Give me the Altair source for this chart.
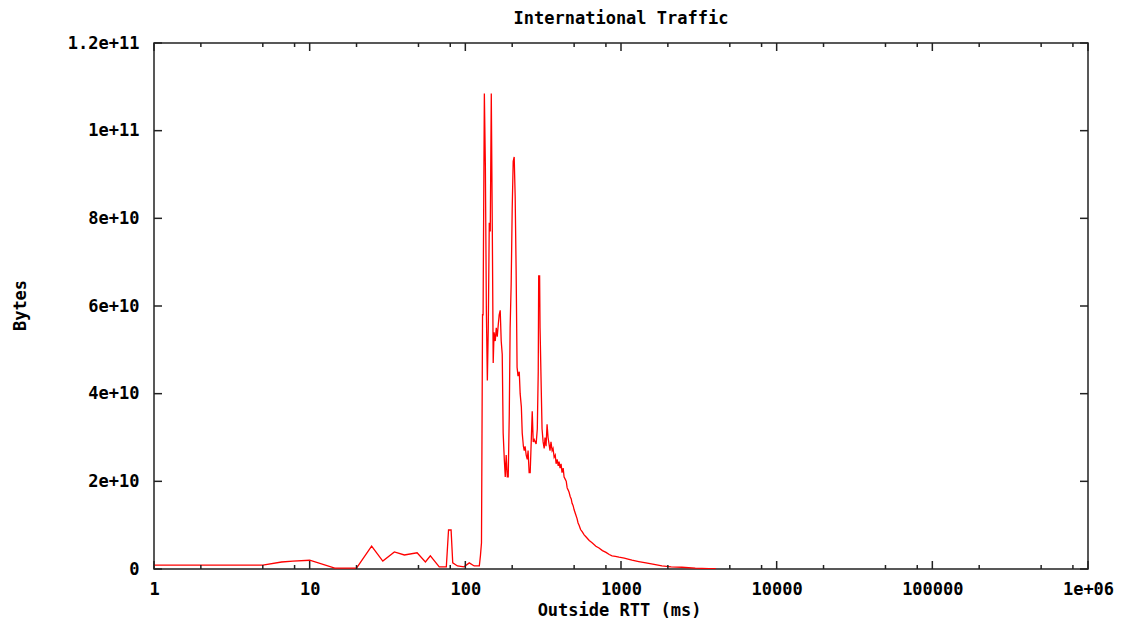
import altair as alt
import pandas as pd

# ---- data ----
rtt_ms = [1, 5, 6.6, 7.8, 10, 14.5, 20, 25, 29.5, 35, 40.6, 49, 55.4, 59.6, 68, 75.5, 78, 81, 83, 89, 98, 106, 114, 123,
          125, 127, 129, 130, 132.5, 134.5, 136.5, 138.5, 140.4, 142.5, 144.6, 146.8, 149, 151, 153, 155.7, 158, 160.3,
          163, 165, 167.5, 170, 172.6, 175, 178, 180.5, 183, 186, 188.6, 191.5, 194, 197, 200, 203, 206, 209, 212, 215,
          218, 222, 225, 229, 232, 236, 239, 242, 246, 250, 253, 257, 261, 265, 269, 273, 277, 281, 285, 290, 294, 296,
          298, 300, 302, 307, 311, 316, 321, 325, 330, 335, 340, 345, 350, 355, 361, 366, 372, 378, 383, 389, 395, 400,
          406, 412, 418, 425, 431, 438, 445, 451, 458, 464, 472, 479, 485, 492, 500, 511, 522, 530, 538, 550, 563, 580,
          597, 625, 652, 690, 722, 760, 801, 840, 876, 920, 971, 1050, 1125, 1177, 1300, 1446, 1600, 1832, 2100, 2460,
          3000, 3664, 4064]
bytes_e10 = [0.09, 0.09, 0.16, 0.18, 0.2, 0.02, 0.02, 0.52, 0.18, 0.39, 0.32, 0.37, 0.16, 0.30, 0.05, 0.05, 0.89, 0.89,
             0.14, 0.07, 0.05, 0.14, 0.07, 0.07,
             0.3, 0.6, 5.8, 5.8, 10.85, 9.2, 5.9, 4.3, 5.5, 7.9, 7.7, 10.85, 7.8, 4.7, 5.4, 5.2, 5.5, 5.3,
             5.6, 5.8, 5.9, 5.2, 4.9, 3.1, 2.5, 2.1, 2.6, 2.1, 2.1, 3.5, 5.5, 6.5, 8.2, 9.3, 9.4, 8.5, 6.8, 4.6,
             4.4, 4.5, 4.0, 3.7, 3.1, 2.8, 2.7, 2.8, 2.6, 2.5, 2.7, 2.2, 2.2, 2.9, 3.6, 2.9, 2.95, 2.9, 2.85, 3.2, 4.5, 6.7,
             6.5, 6.7, 5.5, 4.2, 3.2, 2.9, 2.75, 3.0, 2.8, 3.3, 3.0, 2.85, 2.7, 2.9, 2.7, 2.75, 2.55, 2.6, 2.4, 2.5, 2.35, 2.45,
             2.3, 2.4, 2.2, 2.3, 2.1, 2.05, 2.0, 1.85, 1.8, 1.75, 1.65, 1.6, 1.5, 1.45, 1.35, 1.25, 1.15, 1.05, 1.0, 0.9, 0.85, 0.78,
             0.73, 0.65, 0.6, 0.52, 0.48, 0.42, 0.38, 0.33, 0.3, 0.29, 0.27, 0.25, 0.22, 0.2, 0.17, 0.14, 0.11, 0.07, 0.05, 0.04,
             0.02, 0.01, 0.01]

x_major = [1, 10, 100, 1000, 10000, 100000, 1000000]
x_major_labels = ["1", "10", "100", "1000", "10000", "100000", "1e+06"]
x_minor = [2, 5, 8, 20, 50, 80, 200, 500, 800, 2000, 5000, 8000, 20000, 50000, 80000, 200000, 500000, 800000]
y_major = [0, 2e10, 4e10, 6e10, 8e10, 1e11, 1.2e11]
y_major_labels = ["0", "2e+10", "4e+10", "6e+10", "8e+10", "1e+11", "1.2e+11"]

W, H = 934, 526
FONT = "DejaVu Sans Mono"
FS = 17

df = pd.DataFrame({"rtt": rtt_ms, "bytes": [b * 1e10 for b in bytes_e10]})

xscale = alt.Scale(type="log", domain=[1, 1000000], nice=False)
yscale = alt.Scale(domain=[0, 1.2e11], nice=False, zero=True)

x_expr = "[" + ",".join("'%s'" % s for s in x_major_labels) + "][round(log(datum.value)/log(10))]"
y_expr = "[" + ",".join("'%s'" % s for s in y_major_labels) + "][round(datum.value/2e10)]"

xaxis = alt.Axis(
    values=x_major, labelExpr=x_expr, ticks=False, tickSize=0, grid=False, domain=False,
    labelFont=FONT, labelFontSize=FS, labelFontWeight="bold", labelColor="black", labelPadding=12,
    labelFlush=False, labelOverlap=False,
    title="Outside RTT (ms)", titleFont=FONT, titleFontSize=FS, titleFontWeight="bold", titleColor="black",
    titleX=465, titleY=41, titleBaseline="middle", titleAlign="center")
yaxis = alt.Axis(
    values=y_major, labelExpr=y_expr, ticks=False, tickSize=0, grid=False, domain=False,
    labelFont=FONT, labelFontSize=FS, labelFontWeight="bold", labelColor="black", labelPadding=15,
    labelFlush=False, labelOverlap=False, labelBaseline="middle",
    title="Bytes", titleFont=FONT, titleFontSize=FS, titleFontWeight="bold", titleColor="black",
    titleX=-134, titleY=262, titleAngle=-90, titleBaseline="middle", titleAlign="center")

line = alt.Chart(df).mark_line(color="#ff0000", strokeWidth=1.3, clip=True).encode(
    x=alt.X("rtt:Q", scale=xscale, axis=xaxis),
    y=alt.Y("bytes:Q", scale=yscale, axis=yaxis),
)

tick_color = "#222222"
xmaj = pd.DataFrame({"rtt": x_major})
xmin = pd.DataFrame({"rtt": x_minor})
ymaj = pd.DataFrame({"bytes": y_major})

def xticks(data, length):
    bottom = alt.Chart(data).mark_rule(color=tick_color, strokeWidth=1.5).encode(
        x=alt.X("rtt:Q", scale=xscale, axis=xaxis), y=alt.value(H), y2=alt.value(H - length))
    top = alt.Chart(data).mark_rule(color=tick_color, strokeWidth=1.5).encode(
        x=alt.X("rtt:Q", scale=xscale, axis=xaxis), y=alt.value(0), y2=alt.value(length))
    return [bottom, top]

yl = alt.Chart(ymaj).mark_rule(color=tick_color, strokeWidth=1.5).encode(
    y=alt.Y("bytes:Q", scale=yscale, axis=yaxis), x=alt.value(0), x2=alt.value(8))
yr = alt.Chart(ymaj).mark_rule(color=tick_color, strokeWidth=1.5).encode(
    y=alt.Y("bytes:Q", scale=yscale, axis=yaxis), x=alt.value(W - 8), x2=alt.value(W))

chart = alt.layer(line, *xticks(xmaj, 8), *xticks(xmin, 4), yl, yr).properties(
    width=W, height=H,
    autosize=alt.AutoSizeParams(type="none"),
    padding={"left": 154, "top": 43, "right": 1130 - 154 - W, "bottom": 625 - 43 - H},
    title=alt.TitleParams(text="International Traffic", font=FONT, fontSize=FS, fontWeight="bold",
                          color="black", anchor="middle", offset=6),
    background="white",
).configure_view(stroke="#222222", strokeWidth=1.5)

chart.save("out.html", embed_options={"renderer": "svg", "actions": False})
